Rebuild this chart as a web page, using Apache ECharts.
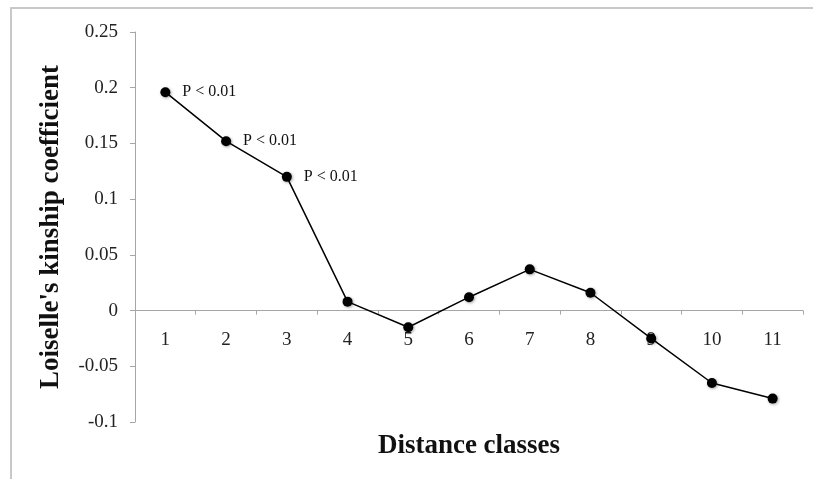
<!DOCTYPE html>
<html>
<head>
<meta charset="utf-8">
<script src="https://cdn.jsdelivr.net/npm/echarts@6/dist/echarts.min.js"></script>
<style>html,body{margin:0;padding:0;background:#fff}#c{width:813px;height:479px}</style>
</head>
<body>
<div id="c"></div>
<script>
const categories = ['1','2','3','4','5','6','7','8','9','10','11'];
const kinship = [0.196, 0.152, 0.120, 0.008, -0.015, 0.012, 0.037, 0.016, -0.025, -0.065, -0.079];
const pLabels = ['P < 0.01','P < 0.01','P < 0.01','','','','','','','',''];

const chart = echarts.init(document.getElementById('c'), null, {renderer:'canvas'});
const font = '"Liberation Serif", "Times New Roman", serif';
chart.setOption({
  animation: false,
  backgroundColor: '#fff',
  textStyle: {fontFamily: font},
  graphic: [{
    type: 'rect', shape: {x: 11, y: 8, width: 900, height: 600},
    style: {fill: 'none', stroke: '#c8c8c8', lineWidth: 2}, silent: true
  }],
  grid: {left: 135, right: 10, top: 32, bottom: 57, containLabel: false, outerBoundsMode: 'none'},
  xAxis: {
    type: 'category', data: categories, boundaryGap: true,
    axisLine: {onZero: true, lineStyle: {color: '#a6a6a6', width: 1}},
    axisTick: {show: true, length: 4, inside: false, alignWithLabel: false, lineStyle: {color: '#a6a6a6'}},
    axisLabel: {color: '#222', fontSize: 19, fontFamily: font, margin: -91},
    splitLine: {show: false},
    name: 'Distance classes', nameLocation: 'middle', nameGap: 11,
    nameTextStyle: {fontSize: 27, fontWeight: 'bold', color: '#111', fontFamily: font}
  },
  yAxis: {
    type: 'value', min: -0.1, max: 0.25, interval: 0.05,
    axisLine: {show: true, lineStyle: {color: '#a6a6a6', width: 1}},
    axisTick: {show: true, length: 5, lineStyle: {color: '#a6a6a6'}},
    axisLabel: {color: '#222', fontSize: 19, fontFamily: font, margin: 17,
      formatter: v => String(Math.round(v*100)/100)},
    splitLine: {show: false},
    name: "Loiselle's kinship coefficient", nameLocation: 'middle', nameGap: 70,
    nameTextStyle: {fontSize: 27, fontWeight: 'bold', color: '#111', fontFamily: font}
  },
  series: [{
    type: 'line', data: kinship,
    symbol: 'circle', symbolSize: 10,
    lineStyle: {color: '#000', width: 1.5},
    itemStyle: {color: '#000', shadowBlur: 3, shadowColor: 'rgba(0,0,0,0.35)', shadowOffsetX: 1, shadowOffsetY: 1},
    label: {show: true, position: 'right', distance: 12, color: '#111', fontSize: 16, fontFamily: font,
      formatter: p => pLabels[p.dataIndex]}
  }]
});
</script>
</body>
</html>
